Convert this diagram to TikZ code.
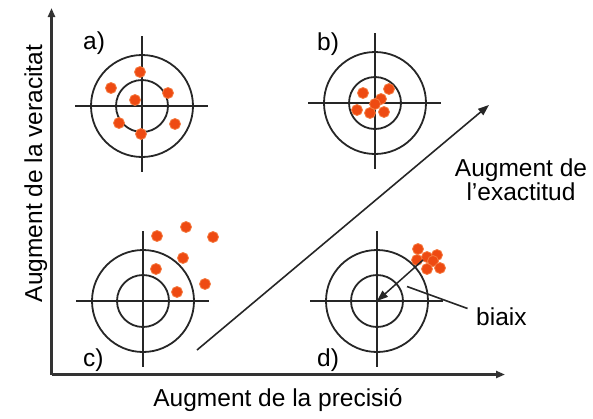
\documentclass[tikz,border=0pt]{standalone}
\usepackage{fontspec}
\setmainfont{Liberation Sans}
\usetikzlibrary{arrows.meta}
\definecolor{dotred}{HTML}{EE4A12}
\definecolor{dotedge}{HTML}{F47A40}
\tikzset{
  ring/.style={line width=1.8pt, black!85},
  cross/.style={line width=1.6pt, black!85},
  shot/.style={circle, fill=dotred, draw=dotedge, line width=0.8pt, minimum size=11pt, inner sep=0pt},
  lbl/.style={inner sep=0pt, font=\fontsize{24.5}{27}\selectfont},
  axis/.style={line width=2.2pt, black!80, -{Triangle[length=9pt,width=7pt]}},
  arr/.style={line width=1.6pt, black!85, -{Triangle[length=11pt,width=8pt]}}
}
\begin{document}
\begin{tikzpicture}[x=1pt,y=-1pt]
\useasboundingbox (0,0) rectangle (593,418);
% targets
\foreach \n/\cx/\cy in {a/142/106, b/375/103, c/143/301, d/377/301}{
  \coordinate (\n) at (\cx,\cy);
  \draw[ring] (\n) circle[radius=51];
  \draw[ring] (\n) circle[radius=26];
  \draw[cross] ([xshift=-67pt]\n) -- ([xshift=66pt]\n);
  \draw[cross] ([yshift=70pt]\n) -- ([yshift=-66pt]\n);
}
% shots a
\foreach \i/\x/\y in {1/140/72, 2/111/88, 3/168/93, 4/135/100, 5/119/123, 6/175/124, 7/141/134}
  \node[shot] (sa\i) at (\x,\y) {};
% shots b
\foreach \i/\x/\y in {1/363/93, 2/389/89, 3/381/99, 4/375/104, 5/357/110, 6/370/113, 7/384/112}
  \node[shot] (sb\i) at (\x,\y) {};
% shots c
\foreach \i/\x/\y in {1/157/236, 2/186/227, 3/213/237, 4/183/258, 5/156/269, 6/205/284, 7/177/292}
  \node[shot] (sc\i) at (\x,\y) {};
% shots d
\foreach \i/\x/\y in {1/418/249, 2/417/260, 3/427/257, 4/437/255, 5/433/261, 6/427/269, 7/440/268}
  \node[shot] (sd\i) at (\x,\y) {};
% labels
\node[lbl, anchor=base west] (la) at (83,49) {a)};
\node[lbl, anchor=base west] (lb) at (317,50) {b)};
\node[lbl, anchor=base west] (lc) at (83,366) {c)};
\node[lbl, anchor=base west] (ld) at (317,366) {d)};
% axes
\coordinate (o) at (51.5,374.5);
\coordinate (ytip) at (51.5,8);
\coordinate (xtip) at (505,374.5);
\draw[axis] (o) -- (ytip);
\draw[axis] (o) -- (xtip);
\node[lbl, anchor=base, rotate=90] (ylab) at (42,173.5) {Augment de la veracitat};
\node[lbl, anchor=base] (xlab) at (278,406.5) {Augment de la precisió};
% accuracy arrow
\coordinate (ds) at (197,350);
\coordinate (de) at (489,105);
\draw[arr] (ds) -- (de);
\node[lbl, anchor=base] (ex1) at (521,176.5) {Augment de};
\node[lbl, anchor=base] (ex2) at (521,200) {l{\char"0027}exactitud};
% bias
\coordinate (bs) at (423,260);
\draw[arr, line width=1.5pt] (bs) -- (d);
\coordinate (ls) at (407,286.5);
\node[lbl, anchor=base west] (bx) at (476,325) {biaix};
\coordinate (le) at (467.5,308.5);
\draw[cross] (ls) -- (le);
\end{tikzpicture}
\end{document}
